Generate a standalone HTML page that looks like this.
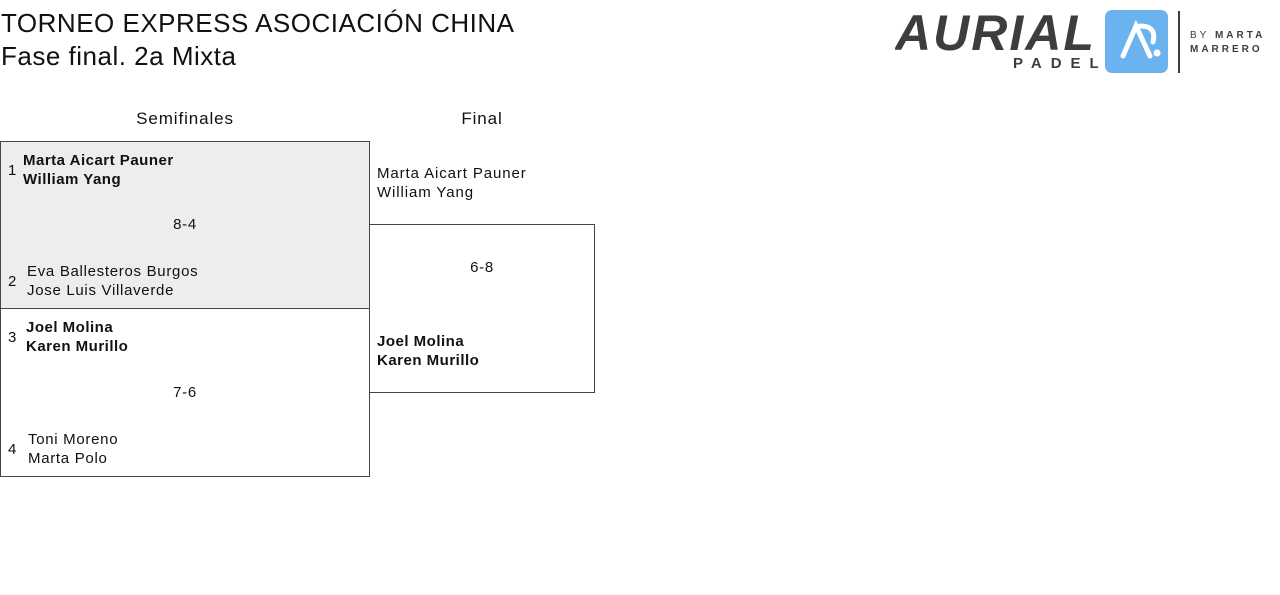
<!DOCTYPE html>
<html><head><meta charset="utf-8"><style>
body{margin:0;width:1280px;height:595px;background:#fff;font-family:"Liberation Sans","DejaVu Sans",sans-serif;color:#111;position:relative;overflow:hidden}
.a{position:absolute;white-space:nowrap}
.t{font-size:26px;letter-spacing:0.5px}
.s{font-size:15px;line-height:19px;letter-spacing:0.7px}
.b{font-weight:bold;letter-spacing:0.5px}
.box{position:absolute;border:1px solid #444;box-sizing:border-box}
.c{transform:translateX(-50%)}
</style></head><body>
<div class="a t" style="left:1px;top:8px">TORNEO EXPRESS ASOCIACIÓN CHINA</div>
<div class="a t" style="left:1px;top:41px">Fase final. 2a Mixta</div>

<svg class="a" style="left:895px;top:8px" width="380" height="70">
<text x="0" y="42" font-family="Liberation Sans" font-weight="bold" font-style="italic" font-size="50" fill="#3d3d3d" letter-spacing="2">AURIAL</text>
<text x="118" y="60" font-family="Liberation Sans" font-weight="bold" font-size="15" fill="#3d3d3d" letter-spacing="9">PADEL</text>
<rect x="210" y="2" width="63" height="63" rx="7" fill="#6ab3ef"/>
<path d="M228 48 L241 18 L255 48" stroke="#fff" stroke-width="5" fill="none" stroke-linecap="round"/>
<path d="M245 18 Q262 18 258 34" stroke="#fff" stroke-width="5" fill="none" stroke-linecap="round"/>
<circle cx="262" cy="45" r="3.5" fill="#fff"/>
<rect x="283" y="3" width="2" height="62" fill="#3d3d3d"/>
<text x="295" y="30" font-family="Liberation Sans" font-size="10" fill="#3d3d3d" letter-spacing="3">BY <tspan font-weight="bold">MARTA</tspan></text>
<text x="295" y="44" font-family="Liberation Sans" font-weight="bold" font-size="10" fill="#3d3d3d" letter-spacing="3">MARRERO</text>
</svg>

<div class="a c" style="left:185px;top:109px;font-size:17px;letter-spacing:0.9px">Semifinales</div>
<div class="a c" style="left:482px;top:109px;font-size:17px;letter-spacing:0.9px">Final</div>

<div class="box" style="left:0;top:141px;width:370px;height:168px;background:#ededed"></div>
<div class="box" style="left:0;top:308px;width:370px;height:169px"></div>
<div class="box" style="left:369px;top:224px;width:226px;height:169px"></div>

<div class="a s" style="left:8px;top:161px">1</div>
<div class="a s b" style="left:23px;top:151px">Marta Aicart Pauner<br>William Yang</div>
<div class="a s c" style="left:185px;top:215px">8-4</div>
<div class="a s" style="left:8px;top:272px">2</div>
<div class="a s" style="left:27px;top:262px">Eva Ballesteros Burgos<br>Jose Luis Villaverde</div>

<div class="a s" style="left:8px;top:328px">3</div>
<div class="a s b" style="left:26px;top:318px">Joel Molina<br>Karen Murillo</div>
<div class="a s c" style="left:185px;top:383px">7-6</div>
<div class="a s" style="left:8px;top:440px">4</div>
<div class="a s" style="left:28px;top:430px">Toni Moreno<br>Marta Polo</div>

<div class="a s" style="left:377px;top:164px;letter-spacing:0.9px">Marta Aicart Pauner<br>William Yang</div>
<div class="a s c" style="left:482px;top:258px">6-8</div>
<div class="a s b" style="left:377px;top:332px">Joel Molina<br>Karen Murillo</div>
</body></html>
